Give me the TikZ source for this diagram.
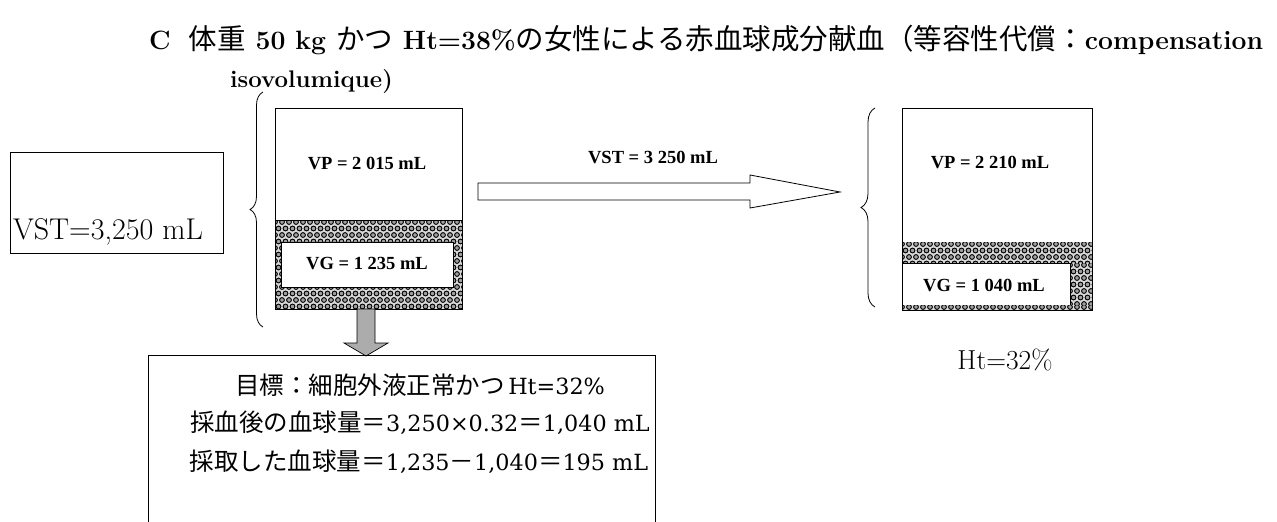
\documentclass[tikz,border=0pt]{standalone}
\usepackage{fontspec}
\newfontfamily\jp{Noto Sans CJK JP}
\newfontfamily\tm{Liberation Serif}
\newfontfamily\dv{DejaVu Serif}
\usetikzlibrary{decorations.pathreplacing}
\newcommand{\hatchfill}[4]{%
  \begin{scope}
    \clip (#1,#2) rectangle (#3,#4);
    \fill[gray!30] (#1,#2) rectangle (#3,#4);
    \foreach \yy in {0,...,20}{
      \foreach \xx in {0,...,30}{
        \pgfmathsetmacro{\off}{mod(\yy,2)*3.5}
        \draw[line width=0.9pt,fill=gray!75] ({#1+\xx*7+\off},{#2+\yy*6.5+2}) circle (2.4);
      }
    }
  \end{scope}}
\newcommand{\J}[1]{{\jp\mdseries\fontsize{24.5}{28}\selectfont #1}}
\newcommand{\JT}[1]{{\jp\mdseries\fontsize{28.5}{32}\selectfont #1}}
\begin{document}
\begin{tikzpicture}[x=1pt,y=-1pt,
  box/.style={draw,line width=0.9pt},
  lab/.style={font=\tm\bfseries\fontsize{18.5}{20}\selectfont,inner sep=0pt},
  big/.style={font=\fontsize{30}{34}\selectfont,inner sep=0pt},
  txt/.style={font=\dv\fontsize{22.3}{28}\selectfont,inner sep=0pt}]
\useasboundingbox (0,0) rectangle (1277,522);
% title
\node[anchor=west,inner sep=0pt,font=\bfseries\fontsize{26.5}{30}\selectfont] (title1) at (149,40)
  {C\hspace{18pt}\JT{体重} 50 kg \JT{かつ} Ht=38\%\JT{の女性による赤血球成分献血（等容性代償：}compensation};
\node[anchor=west,inner sep=0pt,font=\bfseries\fontsize{24}{28}\selectfont] (title2) at (230,82) {isovolumique)};
% VST box
\draw[box] (10,152) rectangle (223,253);
\node[big] (vst) at (108,232) {VST=3,250 mL};
% left brace
\draw[decorate,decoration={brace,amplitude=13pt},line width=0.8pt] (263,327) -- (263,92) coordinate (lb);
% left column
\hatchfill{275}{220}{462}{309}
\fill[white] (281,242) rectangle (453,287);
\draw[line width=0.6pt] (281,242) rectangle (453,287);
\draw[box] (275,108) rectangle (462,309);
\draw[line width=0.8pt] (275,220) -- (462,220);
\node[lab] (vp1) at (367,163) {VP = 2 015 mL};
\node[lab] (vg1) at (367,264) {VG = 1 235 mL};
% hollow arrow
\draw[line width=0.8pt,fill=white] (478,183) -- (750,183) -- (750,175) -- (840,192) -- (750,208) -- (750,200) -- (478,200) -- cycle;
\node[lab] (vst2) at (653,157) {VST = 3 250 mL};
% right brace
\draw[decorate,decoration={brace,amplitude=14pt},line width=0.8pt] (875,307) -- (875,108) coordinate (rb);
% right column
\hatchfill{902}{242}{1092}{263}
\hatchfill{1070}{263}{1092}{310}
\hatchfill{902}{305}{1092}{310}
\draw[line width=0.6pt] (902,263) -- (1070,263) -- (1070,305);
\draw[box] (902,108) rectangle (1092,310);
\node[lab] (vp2) at (990,162) {VP = 2 210 mL};
\node[lab] (vg2) at (984,285) {VG = 1 040 mL};
\node[font=\fontsize{27.5}{30}\selectfont,inner sep=0pt] (ht) at (1005,360) {Ht=32\%};
% gray arrow down
\draw[line width=0.7pt,fill=gray!65] (357,309) -- (375,309) -- (375,343) -- (388,343) -- (366,356) -- (344,343) -- (357,343) -- cycle;
% bottom box
\draw[box] (148,522) -- (148,355) -- (655,355) -- (655,522);
\node[txt] (l1) at (420,385) {\J{目標：細胞外液正常かつ}\,Ht=32\%};
\node[txt] (l2) at (420,423) {\J{採血後の血球量＝}3,250×0.32\J{＝}1,040 mL};
\node[txt] (l3) at (419,462) {\J{採取した血球量＝}1,235\J{－}1,040\J{＝}195 mL};
\end{tikzpicture}
\end{document}
